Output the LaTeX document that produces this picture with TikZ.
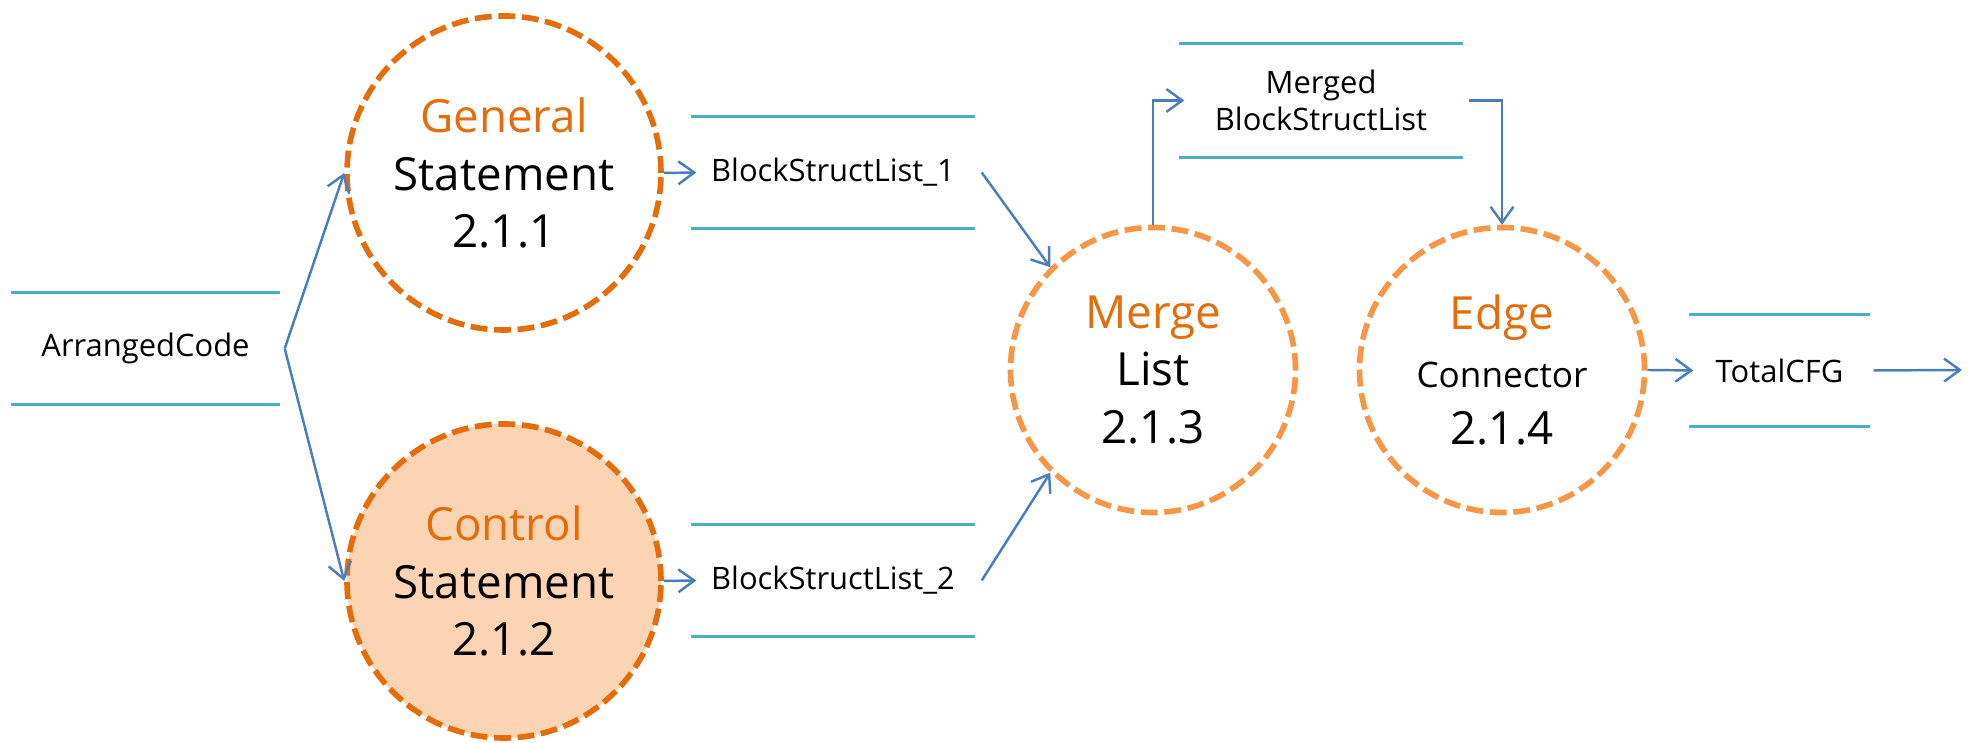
\documentclass[tikz,border=0pt]{standalone}
\usepackage{fontspec}
\setmainfont{Open Sans}
\usepackage{xcolor}
\usetikzlibrary{arrows.meta}
\definecolor{procdark}{HTML}{E46C0A}
\definecolor{proclight}{HTML}{F79646}
\definecolor{procfill}{HTML}{FBD4B4}
\definecolor{flowblue}{HTML}{4A7EBB}
\definecolor{storeblue}{HTML}{4BACC6}
\newcommand{\ptitle}[1]{\textcolor{procdark}{#1}}

\begin{document}
\begin{tikzpicture}[
  proc/.style={circle, draw=procdark, line width=1.6pt, dash pattern=on 4.8pt off 1.9pt,
    minimum size=3.14cm, inner sep=0pt, align=center, font=\fontsize{13}{16.4}\selectfont},
  smallproc/.style={proc, draw=proclight, minimum size=2.85cm},
  store/.style={minimum height=1.11cm, inner sep=0pt, align=center, font=\fontsize{8.8}{10.6}\selectfont},
  storeline/.style={storeblue, line width=0.7pt},
  flow/.style={flowblue, line width=0.7pt, -{Straight Barb[length=4.5pt,width=6.5pt]}}
]
  \useasboundingbox (0,0) rectangle (19.75,7.43);
  \node[store, minimum width=2.67cm] (code) at (1.455,3.945) {ArrangedCode};
  \node[proc] (gen) at (5.04,5.70) {\ptitle{General}\\Statement\\2.1.1};
  \node[proc, fill=procfill] (ctrl) at (5.04,1.62) {\ptitle{Control}\\Statement\\2.1.2};
  \node[store, minimum width=2.82cm] (bsl1) at (8.33,5.705) {BlockStructList\_1};
  \node[store, minimum width=2.82cm] (bsl2) at (8.33,1.625) {BlockStructList\_2};
  \node[smallproc] (merge) at (11.53,3.73) {\ptitle{Merge}\\List\\2.1.3};
  \node[store, minimum width=2.82cm, minimum height=1.13cm] (merged) at (13.21,6.425) {Merged\\BlockStructList};
  \node[smallproc] (edge) at (15.02,3.73) {\ptitle{Edge}\\{\fontsize{10}{12}\selectfont Connector}\\2.1.4};
  \node[store, minimum width=1.79cm] (total) at (17.795,3.725) {TotalCFG};
  \coordinate (split) at ([xshift=0.05cm]code.east);
  \coordinate (out) at (19.62,3.73);

  \foreach \s in {code,bsl1,bsl2,merged,total} {
    \draw[storeline] (\s.north west) -- (\s.north east);
    \draw[storeline] (\s.south west) -- (\s.south east);
  }

  \draw[flow] (split) -- (gen.west);
  \draw[flow] (split) -- (ctrl.west);
  \draw[flow] (gen.east) -- ([xshift=0.05cm]bsl1.west);
  \draw[flow] (ctrl.east) -- ([xshift=0.05cm]bsl2.west);
  \draw[flow] ([xshift=0.07cm]bsl1.east) -- (merge.135);
  \draw[flow] ([xshift=0.07cm]bsl2.east) -- (merge.225);
  \draw[flow] (merge.north) |- ([xshift=0.05cm]merged.west);
  \draw[flow] ([xshift=0.06cm]merged.east) -| (edge.north);
  \draw[flow] (edge.east) -- ([xshift=0.04cm]total.west);
  \draw[flow] ([xshift=0.04cm]total.east) -- (out);
\end{tikzpicture}
\end{document}
